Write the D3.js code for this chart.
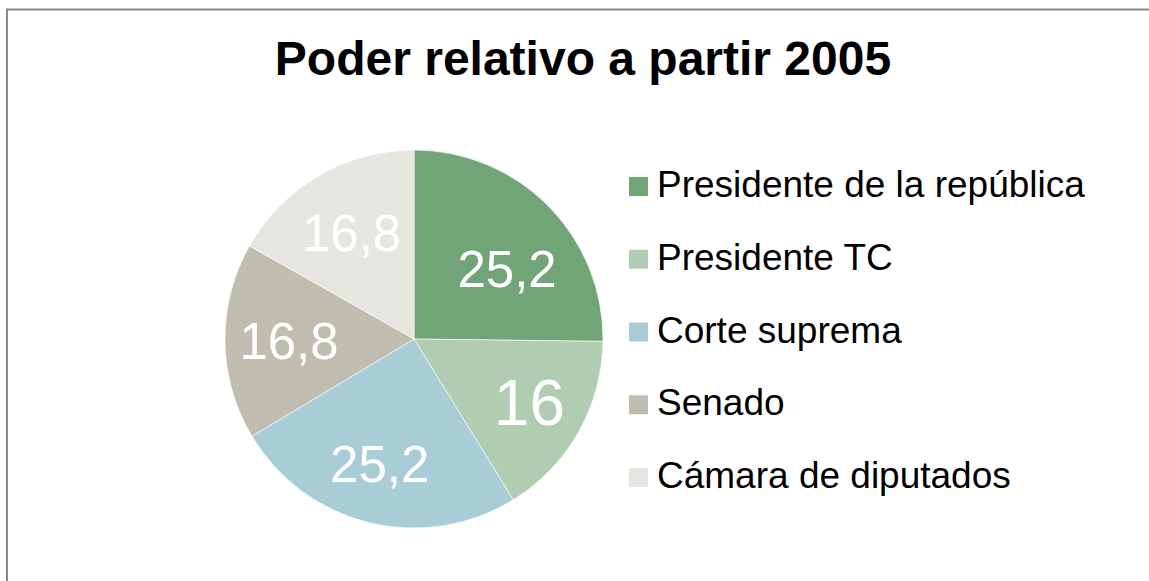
<!DOCTYPE html>
<html>
<head>
<meta charset="utf-8">
<script src="https://cdn.jsdelivr.net/npm/d3@7"></script>
<style>
  html, body { margin: 0; padding: 0; background: #fff; }
  svg { display: block; }
  text { font-family: "Liberation Sans", Arial, sans-serif; }
</style>
</head>
<body>
<svg id="chart" width="1149" height="581"></svg>
<script>
const title = "Poder relativo a partir 2005";
const categories = ["Presidente de la república", "Presidente TC", "Corte suprema", "Senado", "Cámara de diputados"];
const values = [25.2, 16, 25.2, 16.8, 16.8];
const valueLabels = ["25,2", "16", "25,2", "16,8", "16,8"];
const colors = ["#71a477", "#b0cdb1", "#a8cdd6", "#bfbdaf", "#e6e5e0"];

const W = 1149, H = 581;
const svg = d3.select("#chart");

// outer frame (chart area border, cut off at right/bottom)
svg.append("rect")
  .attr("x", 7).attr("y", 9.5)
  .attr("width", W + 10).attr("height", H + 10)
  .attr("fill", "#fff")
  .attr("stroke", "#8a8a8a")
  .attr("stroke-width", 2);

svg.append("text")
  .attr("x", 583).attr("y", 75)
  .attr("text-anchor", "middle")
  .attr("font-size", 48)
  .attr("font-weight", "bold")
  .attr("fill", "#000")
  .text(title);

const cx = 414, cy = 339, R = 189;
const data = categories.map((c, i) => ({ cat: c, value: values[i], label: valueLabels[i], color: colors[i] }));

const pie = d3.pie().value(d => d.value).sort(null);
const arcs = pie(data);
const arc = d3.arc().innerRadius(0).outerRadius(R);
const labelArc = d3.arc().innerRadius(128).outerRadius(128);

const g = svg.append("g").attr("transform", `translate(${cx},${cy})`);
g.selectAll("path").data(arcs).join("path")
  .attr("d", arc)
  .attr("fill", d => d.data.color)
  .attr("stroke", "#ffffff")
  .attr("stroke-width", 0.6);

const labelSize = d => d.data.label.length <= 2 ? 64 : 51;
const labelNudge = [[2, 20], [4, 0], [-4, 0], [3, 0], [2, 4]];
g.selectAll("text.val").data(arcs).join("text")
  .attr("class", "val")
  .attr("x", (d, i) => labelArc.centroid(d)[0] + labelNudge[i][0])
  .attr("y", (d, i) => labelArc.centroid(d)[1] + labelNudge[i][1])
  .attr("dy", "0.36em")
  .attr("text-anchor", "middle")
  .attr("font-size", labelSize)
  .attr("fill", "#ffffff")
  .text(d => d.data.label);

// legend
const legendY = d3.scalePoint().domain(categories).range([197, 488]);
const lg = svg.append("g");
const items = lg.selectAll("g").data(data).join("g")
  .attr("transform", d => `translate(0,${legendY(d.cat)})`);
items.append("rect")
  .attr("x", 629).attr("y", -20)
  .attr("width", 19).attr("height", 19)
  .attr("fill", d => d.color);
items.append("text")
  .attr("x", 657).attr("y", 0)
  .attr("font-size", 37)
  .attr("fill", "#000")
  .text(d => d.cat);
</script>
</body>
</html>
